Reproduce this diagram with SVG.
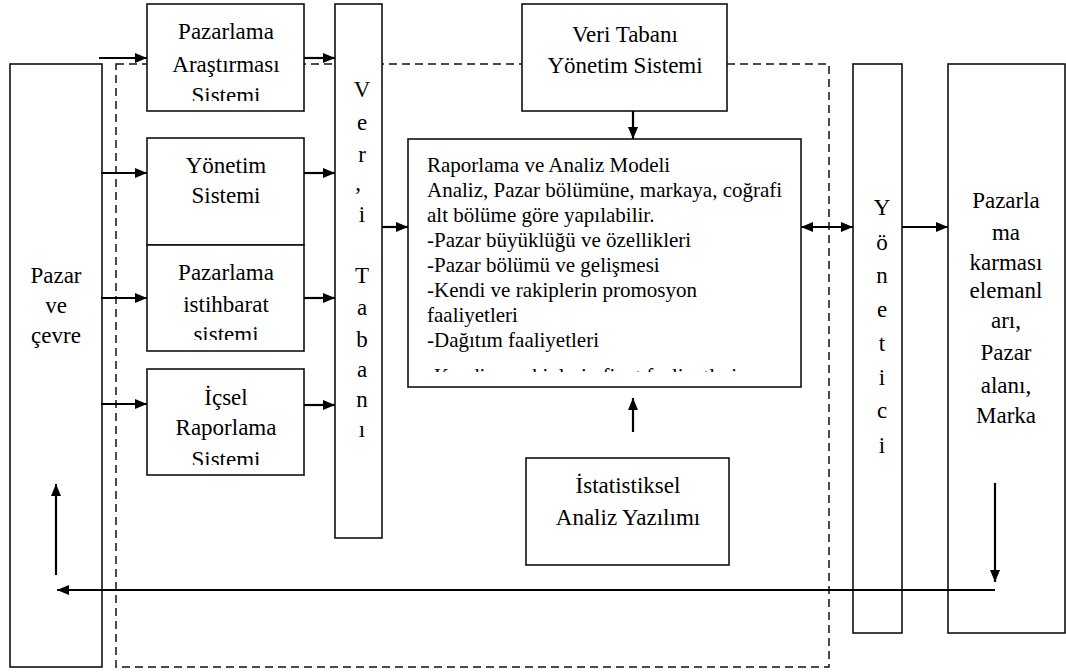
<svg xmlns="http://www.w3.org/2000/svg" width="1066" height="672" viewBox="0 0 1066 672">
  <style>
    .box { fill: #fff; stroke: #111; stroke-width: 1.6; }
    .lbl { font-family: 'Liberation Serif', 'DejaVu Serif', serif; font-size: 23px; fill: #000; text-anchor: middle; }
    .body { font-family: 'Liberation Serif', 'DejaVu Serif', serif; font-size: 21px; fill: #000; }
    .conn { fill: none; stroke: #000; stroke-width: 2.2; }
    .dash { fill: none; stroke: #111; stroke-width: 1.5; stroke-dasharray: 8 5; }
  </style>
  <defs>
    <marker id="arr" viewBox="0 0 12 10" markerWidth="12" markerHeight="10" refX="12" refY="5" orient="auto-start-reverse" markerUnits="userSpaceOnUse">
      <path d="M0,0 L12,5 L0,10 z" fill="#000"/>
    </marker>
    <clipPath id="clipPA"><rect x="147" y="4" width="157" height="97"/></clipPath>
    <clipPath id="clipPI"><rect x="147" y="245" width="157" height="95"/></clipPath>
    <clipPath id="clipIR"><rect x="147" y="369" width="157" height="96"/></clipPath>
    <clipPath id="clipRA"><rect x="408" y="139" width="393" height="233"/></clipPath>
  </defs>

  <rect width="1066" height="672" fill="#fff"/>

  <!-- dashed system boundary -->
  <rect class="dash" x="116" y="64" width="713" height="603"/>

  <g id="pazar-ve-cevre">
    <rect class="box" x="10" y="64" width="92" height="603"/>
    <text class="lbl" x="56" y="283">Pazar</text>
    <text class="lbl" x="56" y="313">ve</text>
    <text class="lbl" x="56" y="343">çevre</text>
  </g>

  <g id="pazarlama-arastirmasi">
    <rect class="box" x="147" y="4" width="157" height="107"/>
    <g clip-path="url(#clipPA)">
      <text class="lbl" x="226" y="39">Pazarlama</text>
      <text class="lbl" x="226" y="72">Araştırması</text>
      <text class="lbl" x="226" y="103">Sistemi</text>
    </g>
  </g>

  <g id="yonetim-sistemi">
    <rect class="box" x="147" y="138" width="157" height="107"/>
    <text class="lbl" x="226" y="173">Yönetim</text>
    <text class="lbl" x="226" y="203">Sistemi</text>
  </g>

  <g id="pazarlama-istihbarat">
    <rect class="box" x="147" y="245" width="157" height="106"/>
    <g clip-path="url(#clipPI)">
      <text class="lbl" x="226" y="280">Pazarlama</text>
      <text class="lbl" x="226" y="312">istihbarat</text>
      <text class="lbl" x="226" y="342">sistemi</text>
    </g>
  </g>

  <g id="icsel-raporlama">
    <rect class="box" x="147" y="369" width="157" height="106"/>
    <g clip-path="url(#clipIR)">
      <text class="lbl" x="226" y="405">İçsel</text>
      <text class="lbl" x="226" y="435">Raporlama</text>
      <text class="lbl" x="226" y="467">Sistemi</text>
    </g>
  </g>

  <g id="veri-tabani">
    <rect class="box" x="335" y="4" width="47" height="534"/>
    <g class="lbl">
      <text x="362" y="97">V</text>
      <text x="362" y="130">e</text>
      <text x="362" y="162">r</text>
      <text x="358" y="190">,</text>
      <text x="362" y="222">i</text>
      <text x="362" y="283">T</text>
      <text x="362" y="315">a</text>
      <text x="362" y="347">b</text>
      <text x="362" y="377">a</text>
      <text x="362" y="407">n</text>
      <text x="362" y="437">ı</text>
    </g>
  </g>

  <g id="vt-yonetim-sistemi">
    <rect class="box" x="522" y="4" width="205" height="107"/>
    <text class="lbl" x="625" y="42">Veri Tabanı</text>
    <text class="lbl" x="625" y="73">Yönetim Sistemi</text>
  </g>

  <g id="raporlama-analiz-modeli">
    <rect class="box" x="408" y="139" width="393" height="248"/>
    <g clip-path="url(#clipRA)" class="body">
      <text x="427" y="172">Raporlama ve Analiz Modeli</text>
      <text x="427" y="197">Analiz, Pazar bölümüne, markaya, coğrafi</text>
      <text x="427" y="222">alt bölüme göre yapılabilir.</text>
      <text x="427" y="247">-Pazar büyüklüğü ve özellikleri</text>
      <text x="427" y="272">-Pazar bölümü ve gelişmesi</text>
      <text x="427" y="297">-Kendi ve rakiplerin promosyon</text>
      <text x="427" y="322">faaliyetleri</text>
      <text x="427" y="347">-Dağıtım faaliyetleri</text>
      <text x="427" y="382.5">-Kendi ve rakiplerin fiyat faaliyetleri</text>
    </g>
  </g>

  <g id="istatistiksel-analiz">
    <rect class="box" x="526" y="458" width="203" height="107"/>
    <text class="lbl" x="628" y="493">İstatistiksel</text>
    <text class="lbl" x="628" y="525">Analiz Yazılımı</text>
  </g>

  <g id="yonetici">
    <rect class="box" x="853" y="64" width="49" height="569"/>
    <g class="lbl">
      <text x="882" y="215">Y</text>
      <text x="882" y="250">ö</text>
      <text x="882" y="283">n</text>
      <text x="882" y="317">e</text>
      <text x="882" y="351">t</text>
      <text x="882" y="385">i</text>
      <text x="882" y="418">c</text>
      <text x="882" y="453">i</text>
    </g>
  </g>

  <g id="pazarlama-karmasi">
    <rect class="box" x="948" y="64" width="117" height="569"/>
    <text class="lbl" x="1006" y="208">Pazarla</text>
    <text class="lbl" x="1006" y="240">ma</text>
    <text class="lbl" x="1006" y="270">karması</text>
    <text class="lbl" x="1006" y="298">elemanl</text>
    <text class="lbl" x="1006" y="328">arı,</text>
    <text class="lbl" x="1006" y="360">Pazar</text>
    <text class="lbl" x="1006" y="393">alanı,</text>
    <text class="lbl" x="1006" y="423">Marka</text>
  </g>

  <g id="connectors">
    <!-- environment into the information subsystems -->
    <line class="conn" x1="99" y1="58" x2="147" y2="58" marker-end="url(#arr)"/>
    <line class="conn" x1="101" y1="173" x2="147" y2="173" marker-end="url(#arr)"/>
    <line class="conn" x1="101" y1="298" x2="147" y2="298" marker-end="url(#arr)"/>
    <line class="conn" x1="101" y1="404" x2="147" y2="404" marker-end="url(#arr)"/>
    <!-- subsystems into the database -->
    <line class="conn" x1="304" y1="58" x2="335" y2="58" marker-end="url(#arr)"/>
    <line class="conn" x1="304" y1="173" x2="335" y2="173" marker-end="url(#arr)"/>
    <line class="conn" x1="304" y1="298" x2="335" y2="298" marker-end="url(#arr)"/>
    <line class="conn" x1="304" y1="405" x2="335" y2="405" marker-end="url(#arr)"/>
    <!-- database into the reporting model -->
    <line class="conn" x1="382" y1="227" x2="408" y2="227" marker-end="url(#arr)"/>
    <!-- DBMS down, statistics up -->
    <line class="conn" x1="633" y1="111" x2="633" y2="139" marker-end="url(#arr)"/>
    <line class="conn" x1="633" y1="432" x2="633" y2="398" marker-end="url(#arr)"/>
    <!-- reporting model <-> manager -> marketing mix -->
    <line class="conn" x1="801" y1="227" x2="853" y2="227" marker-start="url(#arr)" marker-end="url(#arr)"/>
    <line class="conn" x1="902" y1="227" x2="948" y2="227" marker-end="url(#arr)"/>
    <!-- feedback loop -->
    <line class="conn" x1="995" y1="483" x2="995" y2="582" marker-end="url(#arr)"/>
    <line class="conn" x1="995" y1="590" x2="57" y2="590" stroke-width="2.8" marker-end="url(#arr)"/>
    <line class="conn" x1="56" y1="575" x2="56" y2="484" marker-end="url(#arr)"/>
  </g>
</svg>
